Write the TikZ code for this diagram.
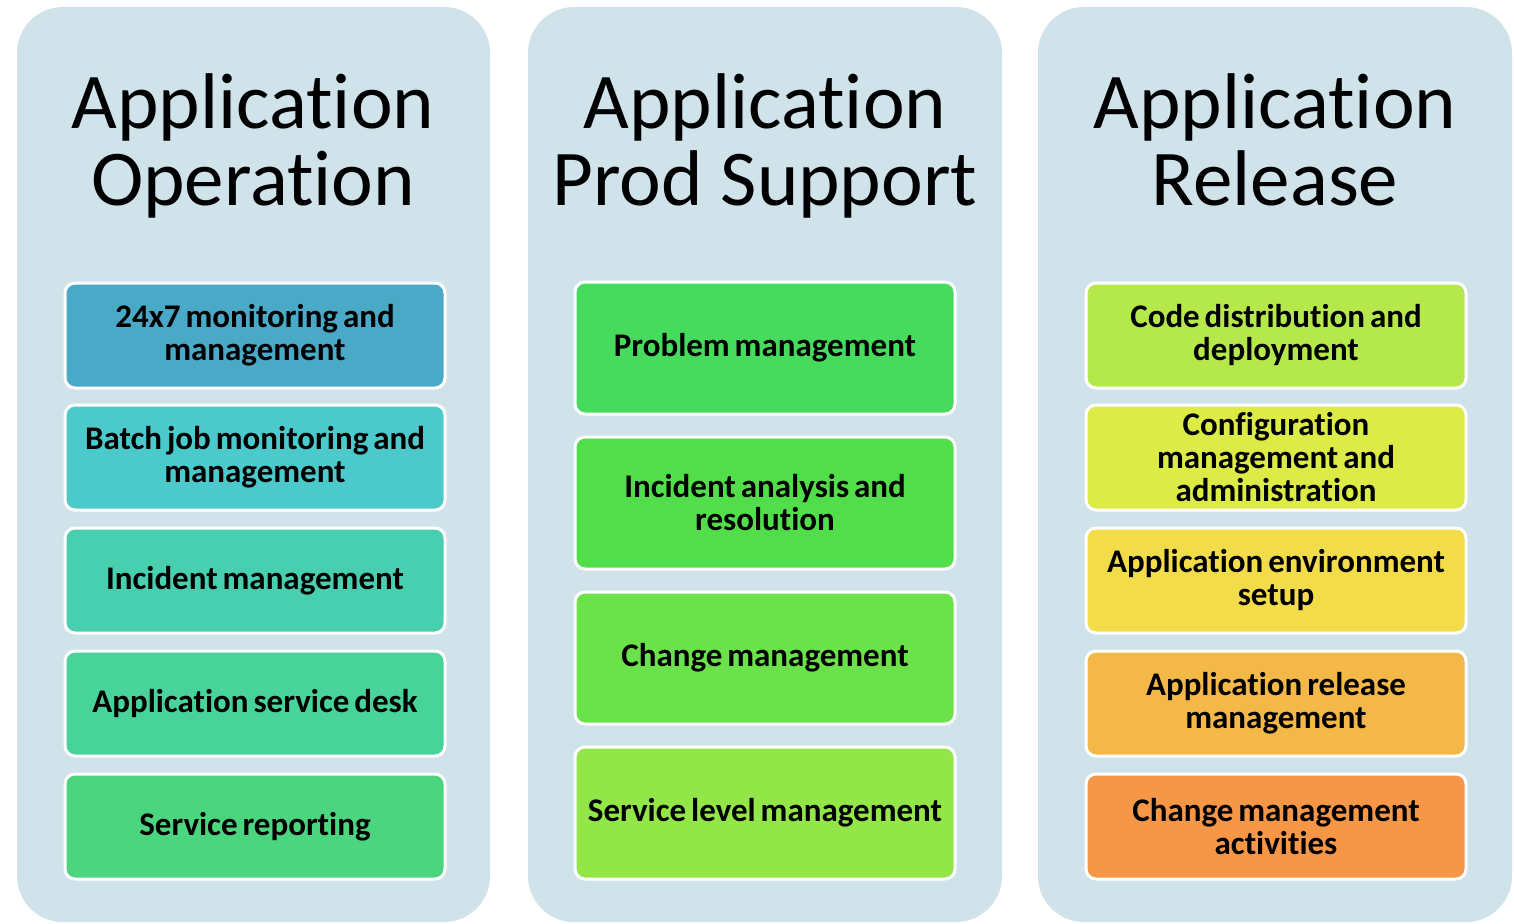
\documentclass[tikz,border=0pt]{standalone}
\usepackage{fontspec}
\setmainfont{Carlito}[Ligatures=NoCommon]
\begin{document}
\begin{tikzpicture}[x=1pt,y=-1pt,
  panel/.style={fill=panelbg, draw=none, rounded corners=46pt},
  heading/.style={align=center, font=\fontsize{79}{77}\selectfont, inner sep=0pt, text=black, text depth=19pt},
  itembox/.style={draw=white, line width=3pt, rounded corners=10pt, align=center,
     minimum width=380pt, text width=376pt, inner sep=0pt,
     font=\bfseries\fontsize{33}{33}\selectfont, text=black,
     execute at begin node={\spaceskip=0.15em\relax}}
]
\definecolor{panelbg}{HTML}{D0E2EA}
\definecolor{cA1}{HTML}{4BA9C8}
\definecolor{cA2}{HTML}{4BC9CB}
\definecolor{cA3}{HTML}{48CFB0}
\definecolor{cA4}{HTML}{48D39A}
\definecolor{cA5}{HTML}{4AD57E}
\definecolor{cB1}{HTML}{47DB5E}
\definecolor{cB2}{HTML}{52DE4A}
\definecolor{cB3}{HTML}{6BE24A}
\definecolor{cB4}{HTML}{92E648}
\definecolor{cC1}{HTML}{B5E84A}
\definecolor{cC2}{HTML}{DDEB47}
\definecolor{cC3}{HTML}{F2DC4A}
\definecolor{cC4}{HTML}{F4B848}
\definecolor{cC5}{HTML}{F59746}
\useasboundingbox (0,0) rectangle (1514,923);
\fill[white] (0,0) rectangle (1514,923);
% panels
\path[panel] (17,7) rectangle (490,922);
\path[panel] (528,7) rectangle (1002,922);
\path[panel] (1038,7) rectangle (1512,922);
% headings
\node[heading] (h1) at (253,149) {Application\\Operation};
\node[heading] (h2) at (765,149) {Application\\Prod Support};
\node[heading] (h3) at (1275,149) {Application\\Release};
% left column
\node[itembox, fill=cA1, minimum height=105pt] (a1) at (255,335.5) {24x7 monitoring and\\management};
\node[itembox, fill=cA2, minimum height=105pt] (a2) at (255,457.5) {Batch job monitoring and\\management};
\node[itembox, fill=cA3, minimum height=105pt] (a3) at (255,580.5) {Incident management};
\node[itembox, fill=cA4, minimum height=105pt] (a4) at (255,703.5) {Application service desk};
\node[itembox, fill=cA5, minimum height=105pt] (a5) at (255,826.5) {Service reporting};
% middle column
\node[itembox, fill=cB1, minimum height=132pt] (b1) at (765,348) {Problem management};
\node[itembox, fill=cB2, minimum height=132pt] (b2) at (765,503) {Incident analysis and\\resolution};
\node[itembox, fill=cB3, minimum height=132pt] (b3) at (765,658) {Change management};
\node[itembox, fill=cB4, minimum height=132pt] (b4) at (765,813) {Service level management};
% right column
\node[itembox, fill=cC1, minimum height=105pt] (c1) at (1276,335.5) {Code distribution and\\deployment};
\node[itembox, fill=cC2, minimum height=105pt] (c2) at (1276,457.5) {Configuration\\management and\\administration};
\node[itembox, fill=cC3, minimum height=105pt] (c3) at (1276,580.5) {Application environment\\setup};
\node[itembox, fill=cC4, minimum height=105pt] (c4) at (1276,703.5) {Application release\\management};
\node[itembox, fill=cC5, minimum height=105pt] (c5) at (1276,826.5) {Change management\\activities};
\end{tikzpicture}
\end{document}
